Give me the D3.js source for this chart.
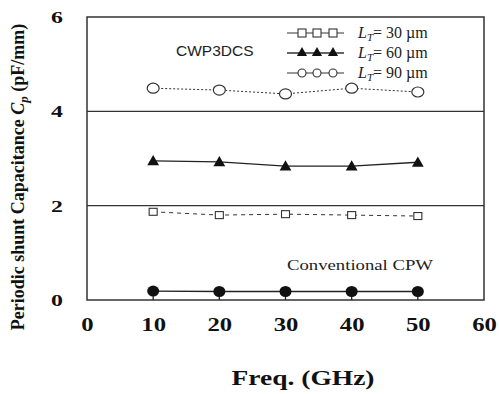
<!DOCTYPE html>
<html><head><meta charset="utf-8">
<script src="https://cdn.jsdelivr.net/npm/d3@7"></script>
<style>body{margin:0;background:#fff}</style>
</head><body>
<script>
const freq = [10, 20, 30, 40, 50];
const lt30 = [1.87, 1.80, 1.82, 1.80, 1.78];
const lt60 = [2.95, 2.93, 2.84, 2.84, 2.92];
const lt90 = [4.49, 4.45, 4.37, 4.49, 4.41];
const conv = [0.19, 0.18, 0.18, 0.18, 0.18];
const xTicks = [0, 10, 20, 30, 40, 50, 60];
const yTicks = [0, 2, 4, 6];
const legendLabels = ["30", "60", "90"];

const W = 499, H = 394;
const m = {l: 87, r: 15, t: 17, b: 94};
const svg = d3.select("body").append("svg").attr("width", W).attr("height", H);
const x = d3.scaleLinear().domain([0, 60]).range([m.l, W - m.r]);
const y = d3.scaleLinear().domain([0, 6]).range([H - m.b, m.t]);
const serif = "'Liberation Serif', 'Times New Roman', serif";

function stretch(sel, f) {
  sel.each(function() {
    const w = this.getComputedTextLength();
    d3.select(this).attr("textLength", w * f).attr("lengthAdjust", "spacingAndGlyphs");
  });
}

// frame
svg.append("rect").attr("x", x(0)).attr("y", y(6)).attr("width", x(60) - x(0)).attr("height", y(0) - y(6))
  .attr("fill", "none").attr("stroke", "#333").attr("stroke-width", 1.5);
svg.selectAll(".grid").data([2, 4]).enter().append("line")
  .attr("x1", x(0)).attr("x2", x(60)).attr("y1", d => y(d)).attr("y2", d => y(d))
  .attr("stroke", "#333").attr("stroke-width", 1.3);

// axes (labels only)
const xAxis = svg.append("g").attr("transform", `translate(0,${y(0)})`)
  .call(d3.axisBottom(x).tickValues(xTicks).tickFormat(d3.format("d")).tickSize(0).tickPadding(18));
xAxis.select(".domain").remove();
xAxis.selectAll("text").attr("font-family", serif).attr("font-weight", "bold").attr("font-size", 19).attr("fill", "#111");
stretch(xAxis.selectAll("text"), 1.3);
const yAxis = svg.append("g").attr("transform", `translate(${x(0)},0)`)
  .call(d3.axisLeft(y).tickValues(yTicks).tickFormat(d3.format("d")).tickSize(0).tickPadding(24));
yAxis.select(".domain").remove();
yAxis.selectAll("text").attr("font-family", serif).attr("font-weight", "bold").attr("font-size", 17).attr("fill", "#111");
stretch(yAxis.selectAll("text"), 1.4);

// axis titles
const xt = svg.append("text").attr("x", 303).attr("y", 385).attr("text-anchor", "middle")
  .attr("font-family", serif).attr("font-weight", "bold").attr("font-size", 20).attr("fill", "#111").text("Freq. (GHz)");
xt.attr("textLength", 143).attr("lengthAdjust", "spacingAndGlyphs");
const yl = svg.append("text").attr("transform", "translate(24,177) rotate(-90)").attr("text-anchor", "middle")
  .attr("font-family", serif).attr("font-weight", "bold").attr("font-size", 18).attr("fill", "#111");
yl.append("tspan").text("Periodic shunt Capacitance ");
yl.append("tspan").attr("font-style", "italic").text("C");
yl.append("tspan").attr("font-style", "italic").attr("font-size", 13).attr("dy", 4).text("p");
yl.append("tspan").attr("dy", -4).text(" (pF/mm)");

const line = d3.line().x((d, i) => x(freq[i])).y(d => y(d));

svg.append("path").datum(lt90).attr("d", line).attr("fill", "none").attr("stroke", "#333").attr("stroke-width", 1).attr("stroke-dasharray", "2,2");
svg.append("path").datum(lt60).attr("d", line).attr("fill", "none").attr("stroke", "#222").attr("stroke-width", 1.3);
svg.append("path").datum(lt30).attr("d", line).attr("fill", "none").attr("stroke", "#333").attr("stroke-width", 1).attr("stroke-dasharray", "4,4");
svg.append("path").datum(conv).attr("d", line).attr("fill", "none").attr("stroke", "#222").attr("stroke-width", 1.3);

// markers
svg.selectAll(".c90").data(lt90).enter().append("ellipse")
  .attr("cx", (d, i) => x(freq[i])).attr("cy", d => y(d)).attr("rx", 6).attr("ry", 5)
  .attr("fill", "#fff").attr("stroke", "#333").attr("stroke-width", 1.2);
const tri = d3.symbol().type(d3.symbolTriangle).size(60);
svg.selectAll(".t60").data(lt60).enter().append("path")
  .attr("d", tri).attr("transform", (d, i) => `translate(${x(freq[i])},${y(d) + 1})`).attr("fill", "#111");
svg.selectAll(".s30").data(lt30).enter().append("rect")
  .attr("x", (d, i) => x(freq[i]) - 4).attr("y", d => y(d) - 3.5).attr("width", 8).attr("height", 7)
  .attr("fill", "#fff").attr("stroke", "#333").attr("stroke-width", 1.1);
svg.selectAll(".ct").data(conv).enter().append("line")
  .attr("x1", (d, i) => x(freq[i])).attr("x2", (d, i) => x(freq[i]))
  .attr("y1", d => y(d)).attr("y2", y(0)).attr("stroke", "#222").attr("stroke-width", 1.3);
svg.selectAll(".cc").data(conv).enter().append("ellipse")
  .attr("cx", (d, i) => x(freq[i])).attr("cy", d => y(d)).attr("rx", 6).attr("ry", 5.5)
  .attr("fill", "#111");

// annotations
svg.append("text").attr("x", 176).attr("y", 56).attr("font-family", "'Liberation Sans', Arial, sans-serif")
  .attr("font-size", 15.5).attr("fill", "#222").text("CWP3DCS");
svg.append("text").attr("x", 287).attr("y", 270).attr("font-family", serif)
  .attr("font-size", 15.5).attr("fill", "#222").text("Conventional CPW")
  .attr("textLength", 146).attr("lengthAdjust", "spacingAndGlyphs");

// legend
const legY = [33, 53, 73];
const lx0 = 287, lx1 = 344, mk = [302, 317, 333];
legendLabels.forEach((lab, k) => {
  const yy = legY[k];
  svg.append("line").attr("x1", lx0).attr("x2", lx1).attr("y1", yy).attr("y2", yy)
    .attr("stroke", "#333").attr("stroke-width", k === 1 ? 1.5 : 1);
  mk.forEach(mx => {
    if (k === 0) svg.append("rect").attr("x", mx - 4).attr("y", yy - 4).attr("width", 8).attr("height", 8)
      .attr("fill", "#fff").attr("stroke", "#333").attr("stroke-width", 1.1);
    else if (k === 1) svg.append("path").attr("d", d3.symbol().type(d3.symbolTriangle).size(45)).attr("transform", `translate(${mx},${yy})`).attr("fill", "#111");
    else svg.append("circle").attr("cx", mx).attr("cy", yy).attr("r", 4).attr("fill", "#fff").attr("stroke", "#333").attr("stroke-width", 1.1);
  });
  const t = svg.append("text").attr("x", 358).attr("y", yy + 5).attr("font-family", serif).attr("font-size", 16).attr("fill", "#222");
  t.append("tspan").attr("font-style", "italic").text("L");
  t.append("tspan").attr("font-style", "italic").attr("font-size", 11).attr("dy", 3).text("T");
  t.append("tspan").attr("dy", -3).text("= " + lab + " \u00b5m");
});
</script>
</body></html>
